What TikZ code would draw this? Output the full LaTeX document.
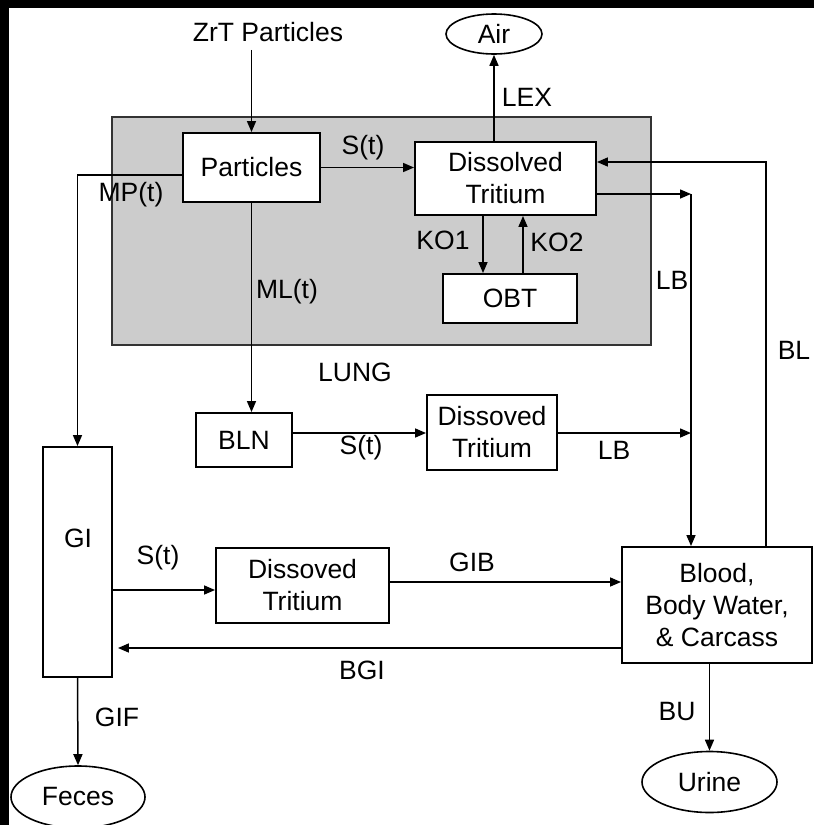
\documentclass[tikz,border=0pt]{standalone}
\usepackage{fontspec}
\setmainfont{Liberation Sans}
\usetikzlibrary{arrows.meta,shapes.geometric}
\newcommand\fs{\fontsize{26.5}{32}\selectfont}
\tikzset{
  box/.style={draw, line width=1.9pt, fill=white, inner sep=0pt, align=center, font=\fs},
  oval/.style={ellipse, draw, line width=1.6pt, fill=white, inner sep=0pt, font=\fs},
  lbl/.style={inner sep=0pt, font=\fs},
  arr/.style={line width=1.5pt, -{Triangle[length=11pt,width=9pt]}},
}
\begin{document}
\begin{tikzpicture}[x=1pt,y=-1pt]
\useasboundingbox (0,0) rectangle (814,825);
\fill[white] (0,0) rectangle (814,825);
\fill[black] (0,0) rectangle (9,825);
\fill[black] (0,0) rectangle (814,8);
% lung region
\node[draw=black!80, line width=1.2pt, fill=black!20, minimum width=539pt, minimum height=228pt, inner sep=0pt] (lung) at (381.5,231) {};
% nodes
\node[lbl] (zrt) at (268,32) {ZrT Particles};
\node[oval, minimum width=96pt, minimum height=40pt] (air) at (494,34) {Air};
\node[box, minimum width=137pt, minimum height=69pt] (particles) at (251.5,167.5) {Particles};
\node[box, minimum width=181pt, minimum height=73pt] (dt1) at (505.5,178.5) {Dissolved\\Tritium};
\node[box, minimum width=134pt, minimum height=49pt] (obt) at (510,298.5) {OBT};
\node[box, minimum width=96pt, minimum height=54pt] (bln) at (244,440) {BLN};
\node[box, minimum width=130pt, minimum height=75pt] (dt2) at (492,432.5) {Dissoved\\Tritium};
\node[box, minimum width=69pt, minimum height=230pt] (gi) at (77.5,562) {};
\node[lbl] (gitext) at (78,538) {GI};
\node[box, minimum width=173pt, minimum height=75pt] (dt3) at (302.5,585.5) {Dissoved\\Tritium};
\node[box, minimum width=190pt, minimum height=116pt] (blood) at (717,605) {Blood,\\Body Water,\\\& Carcass};
\node[oval, minimum width=134pt, minimum height=62pt] (feces) at (78,797) {Feces};
\node[oval, minimum width=135pt, minimum height=61pt] (urine) at (709.5,782) {Urine};
% junctions
\coordinate (j1) at (691,194);
\coordinate (j2) at (691,433);
\coordinate (blx) at (766,0);
% connectors
\draw[arr] ([yshift=-8pt]zrt.south -| particles.north) -- (particles.north);
\draw[arr] (air.south |- dt1.north) -- (air.south);
\draw[arr] (particles.east) -- (particles.east -| dt1.west);
\draw[arr] ([yshift=-7.5pt]particles.west) -| (gi.north);
\draw[arr] (particles.south) -- (particles.south |- bln.north);
\draw[arr] ([xshift=-27pt]obt.north |- dt1.south) -- ([xshift=-27pt]obt.north);
\draw[arr] ([xshift=13pt]obt.north) -- ([xshift=13pt]obt.north |- dt1.south);
\draw[arr] (blood.north -| blx) |- ([yshift=16.5pt]dt1.east);
\draw[arr] ([yshift=-15.5pt]dt1.east) -- (j1);
\draw[arr] (j1) -- (j1 |- blood.north);
\draw[arr] ([yshift=7pt]bln.east) -- ([yshift=7pt]bln.east -| dt2.west);
\draw[arr] (dt2.east |- j2) -- (j2);
\draw[arr] (gi.east |- 0,590) -- ([yshift=-4.5pt]dt3.west);
\draw[arr] ([yshift=3.5pt]dt3.east) -- ([yshift=3.5pt]dt3.east -| blood.west);
\draw[arr, shorten >=5pt] ([yshift=-43pt]blood.west) -- ([yshift=-43pt]blood.west -| gi.east);
\draw[arr] (gi.south) -- (feces.north);
\draw[arr] (urine.north |- blood.south) -- (urine.north);
% labels
\node[lbl] at (527,97) {LEX};
\node[lbl] at (363,148) {S(t)};
\node[lbl] at (131,195) {MP(t)};
\node[lbl] at (287,292) {ML(t)};
\node[lbl] at (443,240) {KO1};
\node[lbl] at (557,242) {KO2};
\node[lbl] at (672,280) {LB};
\node[lbl] at (794,350) {BL};
\node[lbl] at (355,372) {LUNG};
\node[lbl] at (361,448) {S(t)};
\node[lbl] at (614,450) {LB};
\node[lbl] at (158,558) {S(t)};
\node[lbl] at (472,562) {GIB};
\node[lbl] at (362,670) {BGI};
\node[lbl] at (117,717) {GIF};
\node[lbl] at (677,712) {BU};
\end{tikzpicture}
\end{document}
